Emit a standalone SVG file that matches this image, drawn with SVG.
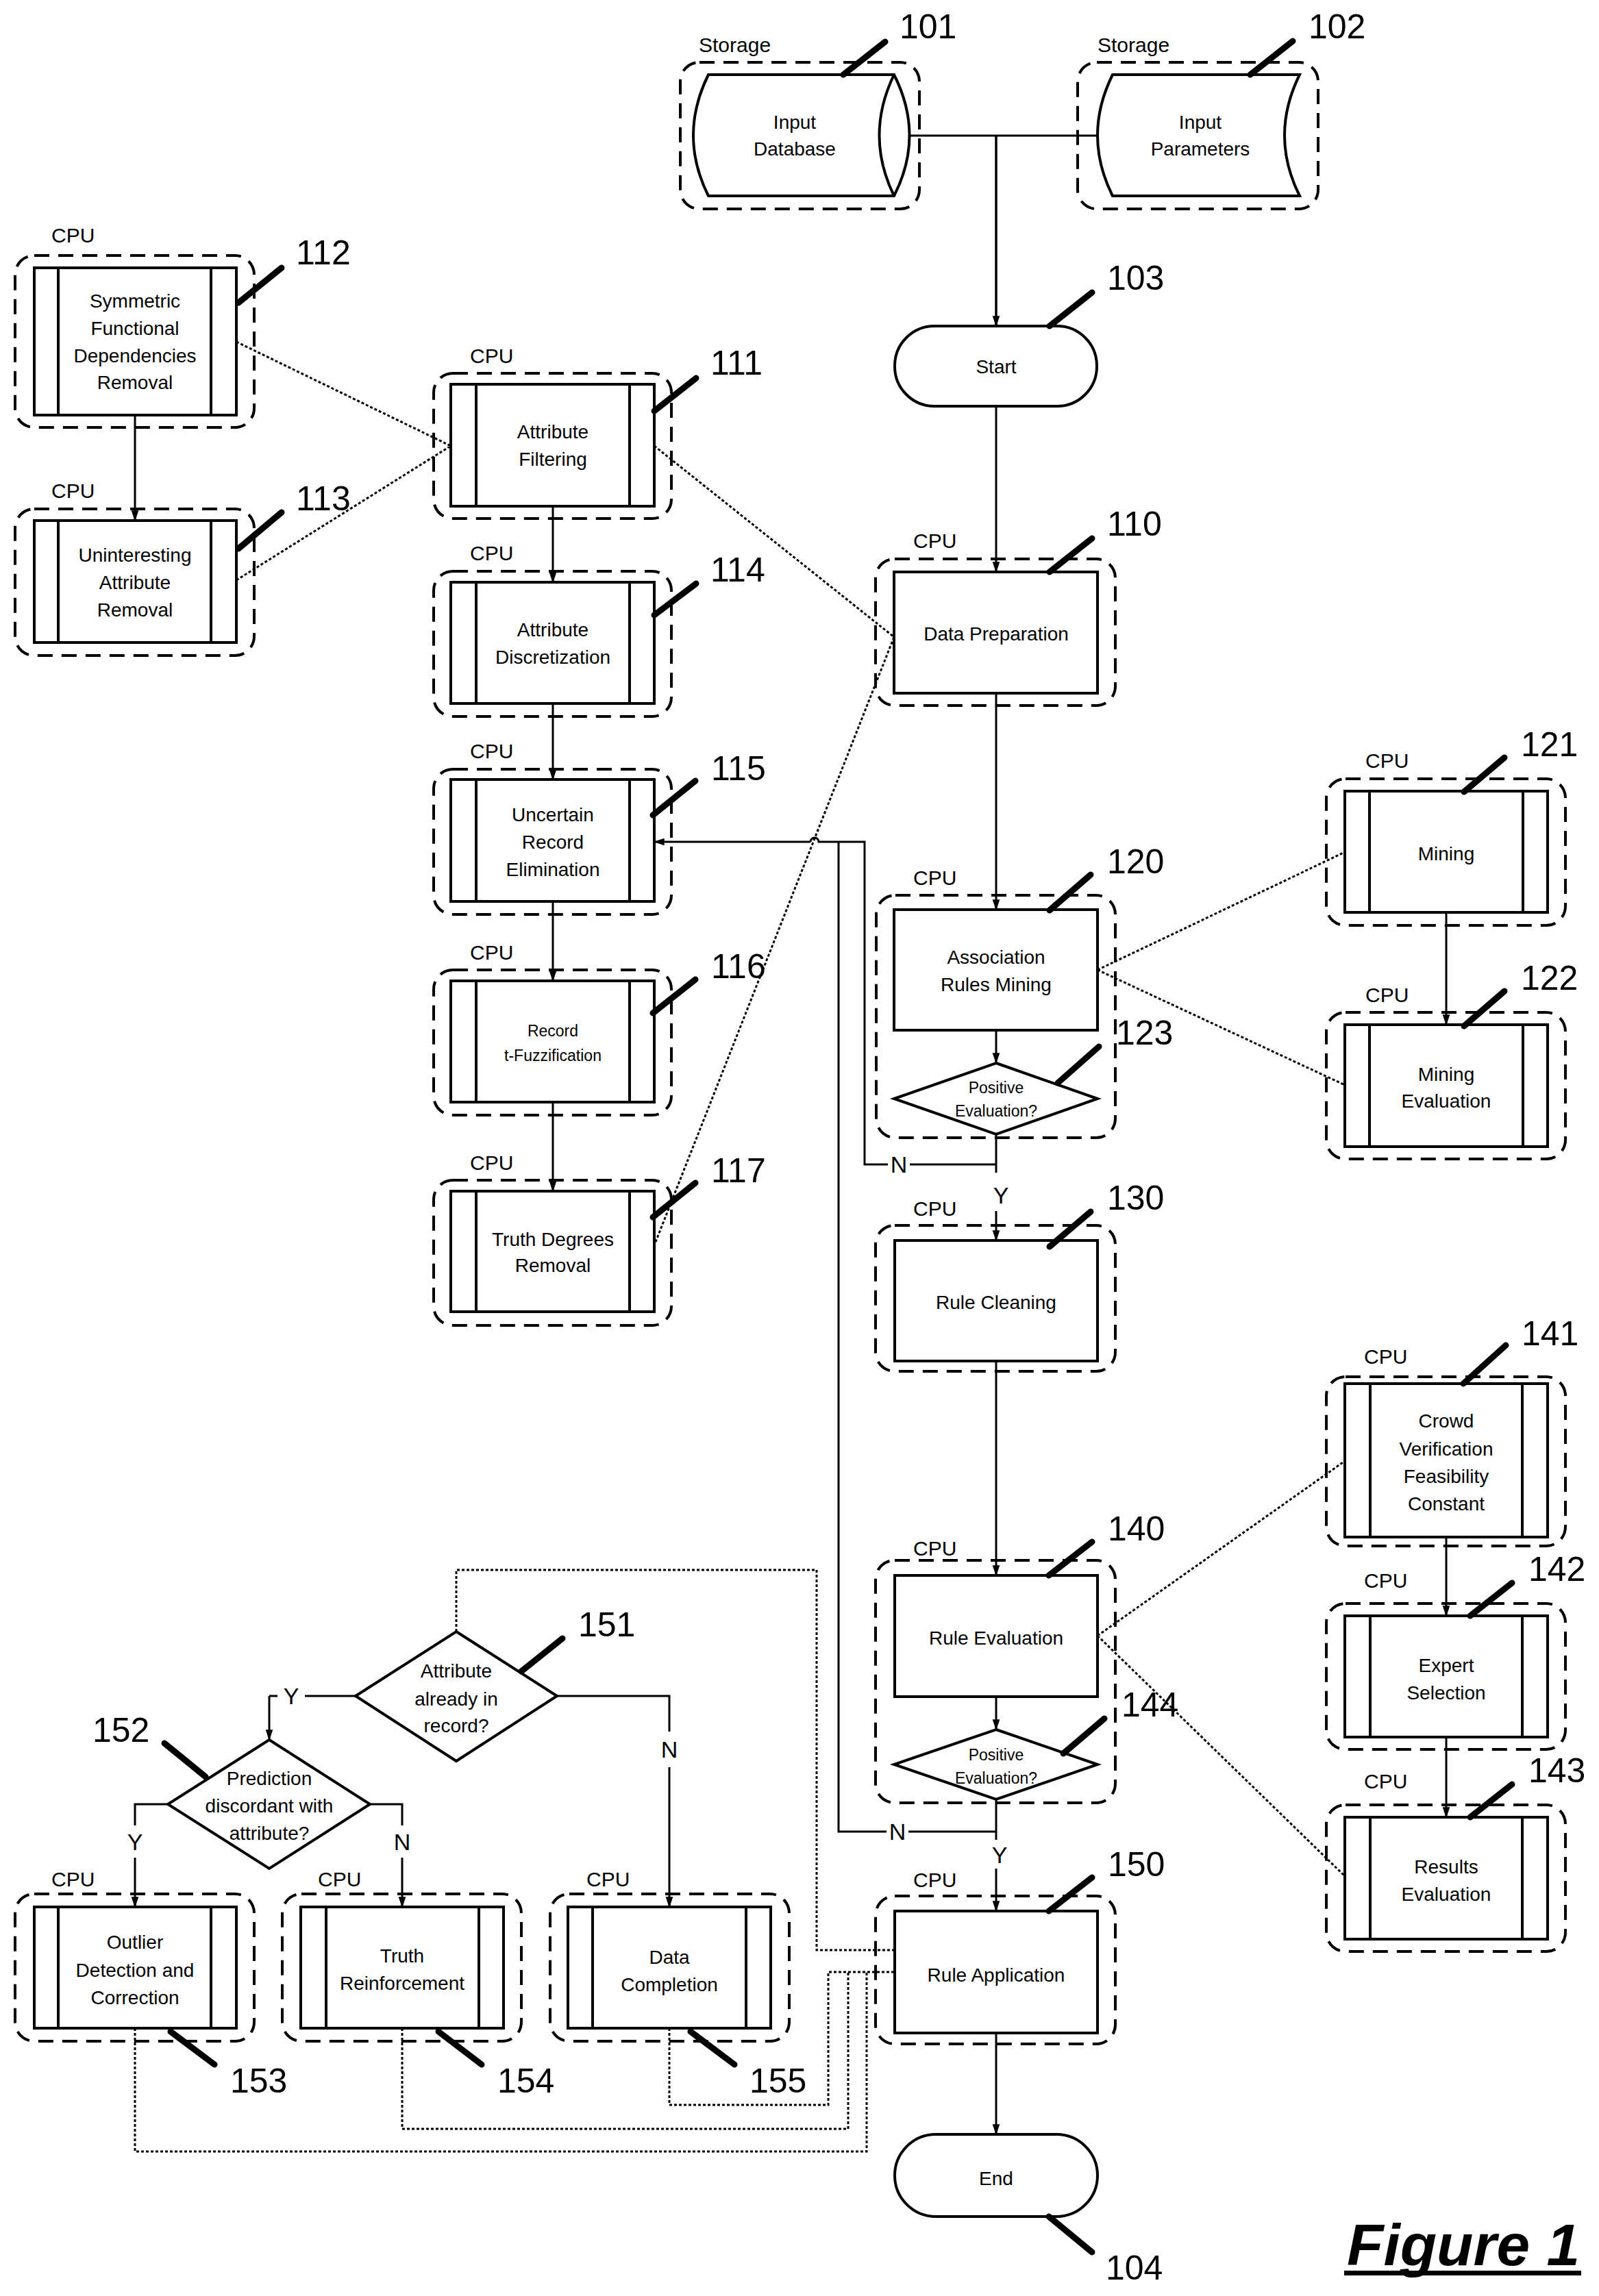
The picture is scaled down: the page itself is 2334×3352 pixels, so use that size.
<svg xmlns="http://www.w3.org/2000/svg" width="2334" height="3352" viewBox="0 0 2334 3352">
<defs>
<marker id="ah" markerWidth="16" markerHeight="24" refX="22" refY="8" viewBox="0 0 24 16" orient="auto" markerUnits="userSpaceOnUse">
<path d="M0,0 L24,8 L0,16 Z" fill="#000"/>
</marker>
<style>
.t{font-family:"Liberation Sans",Arial,sans-serif;font-size:28px;text-anchor:middle;fill:#000}
.s{font-size:23px}
.cpu{font-family:"Liberation Sans",Arial,sans-serif;font-size:30px;fill:#000}
.num{font-family:"Liberation Sans",Arial,sans-serif;font-size:50px;fill:#000}
.box{fill:#fff;stroke:#000;stroke-width:4}
.dash{fill:none;stroke:#000;stroke-width:4;stroke-dasharray:22 13}
.ld{stroke:#000;stroke-width:9;stroke-linecap:round}
.c{fill:none;stroke:#000;stroke-width:3}
.ca{fill:none;stroke:#000;stroke-width:3;marker-end:url(#ah)}
.dot{fill:none;stroke:#000;stroke-width:3;stroke-dasharray:4 3}
</style>
</defs>
<rect width="2334" height="3352" fill="#fff"/>

<g id="connectors">
<path class="c" d="M1328,198 H1602 M1454,198 V476"/>
<path class="ca" d="M1454,198 V476"/>
<path class="ca" d="M1454,593 V835"/>
<path class="ca" d="M1454,1012 V1328"/>
<path class="ca" d="M1454,1504 V1552"/>
<path class="c" d="M1454,1656 V1712"/>
<path class="ca" d="M1454,1768 V1811"/>
<path class="ca" d="M1454,1987 V2300"/>
<path class="ca" d="M1454,2477 V2525"/>
<path class="c" d="M1454,2627 V2686"/>
<path class="ca" d="M1454,2728 V2790"/>
<path class="ca" d="M1454,2968 V3116"/>
<path class="c" d="M1454,1700 H1328 M1296,1700 H1262 V1229 H1195 A6,6 0 0 0 1183,1229"/>
<path class="ca" d="M1183,1229 H955"/>
<path class="c" d="M1454,2674 H1326 M1294,2674 H1224 V1229"/>
<path class="ca" d="M197,606 V760"/>
<path class="ca" d="M807,739 V850"/>
<path class="ca" d="M807,1027 V1138"/>
<path class="ca" d="M807,1316 V1432"/>
<path class="ca" d="M807,1609 V1739"/>
<path class="ca" d="M2111,1332 V1496"/>
<path class="ca" d="M2111,2244 V2359"/>
<path class="ca" d="M2111,2536 V2653"/>
<path class="c" d="M519,2476 H445 M405,2476 H393"/>
<path class="ca" d="M393,2476 V2540"/>
<path class="c" d="M813,2476 H977 V2528"/>
<path class="ca" d="M977,2580 V2784"/>
<path class="c" d="M245,2634 H197 V2665"/>
<path class="ca" d="M197,2712 V2784"/>
<path class="c" d="M540,2634 H587 V2665"/>
<path class="ca" d="M587,2712 V2784"/>
<path class="dot" d="M345,499 L658,651 M345,847 L658,651 M955,651 L1305,930 L955,1818"/>
<path class="dot" d="M1602,1416 L1963,1244 M1602,1416 L1963,1584"/>
<path class="dot" d="M1602,2388 L1963,2133 M1602,2388 L1963,2739"/>
<path class="dot" d="M666,2382 V2292 H1192 V2847 H1305"/>
<path class="dot" d="M977,2961 V3073 H1209 V2879 H1305"/>
<path class="dot" d="M587,2961 V3108 H1238 V2879"/>
<path class="dot" d="M197,2961 V3141 H1265 V2879"/>
<text class="t" x="1312" y="1712" style="font-size:34px">N</text>
<text class="t" x="1461" y="1757" style="font-size:34px">Y</text>
<text class="t" x="1310" y="2686" style="font-size:34px">N</text>
<text class="t" x="1459" y="2720" style="font-size:34px">Y</text>
<text class="t" x="425" y="2488" style="font-size:34px">Y</text>
<text class="t" x="977" y="2566" style="font-size:34px">N</text>
<text class="t" x="197" y="2701" style="font-size:34px">Y</text>
<text class="t" x="587" y="2701" style="font-size:34px">N</text>
</g>

<g id="n101">
<rect class="dash" x="993" y="91" width="349" height="214" rx="28"/>
<path class="box" d="M1034,109 H1305 Q1350,198 1305,286 H1034 Q990,198 1034,109 Z"/>
<path class="c" d="M1305,109 Q1262,198 1305,286" style="stroke-width:4"/>
<text class="cpu" x="1020" y="76">Storage</text>
<text class="t" x="1160" y="188">Input</text>
<text class="t" x="1160" y="227">Database</text>
<line class="ld" x1="1231" y1="109" x2="1292" y2="61"/>
<text class="num" x="1313" y="56">101</text>
</g>
<g id="n102">
<rect class="dash" x="1573" y="91" width="351" height="214" rx="28"/>
<path class="box" d="M1624,109 H1897 Q1853,198 1897,286 H1624 Q1580,198 1624,109 Z"/>
<text class="cpu" x="1602" y="76">Storage</text>
<text class="t" x="1752" y="188">Input</text>
<text class="t" x="1752" y="227">Parameters</text>
<line class="ld" x1="1825" y1="109" x2="1887" y2="60"/>
<text class="num" x="1910" y="56">102</text>
</g>
<g id="n103">
<rect class="box" x="1306" y="476" width="295" height="117" rx="58"/>
<text class="t" x="1454" y="545">Start</text>
<line class="ld" x1="1532" y1="476" x2="1594" y2="427"/>
<text class="num" x="1616" y="423">103</text>
</g>
<g id="n110">
<rect class="dash" x="1278" y="816" width="350" height="214" rx="28"/>
<rect class="box" x="1305" y="835" width="297" height="177"/>
<text class="cpu" x="1333" y="800">CPU</text>
<text class="t" x="1454" y="935">Data Preparation</text>
<line class="ld" x1="1532" y1="835" x2="1594" y2="786"/>
<text class="num" x="1616" y="782">110</text>
</g>

<g id="n112">
<rect class="dash" x="22" y="373" width="349" height="251" rx="28"/>
<rect class="box" x="50" y="391" width="295" height="215"/>
<path class="c" d="M85,391 V606 M308,391 V606" style="stroke-width:4"/>
<text class="cpu" x="75" y="354">CPU</text>
<text class="t" x="197" y="449">Symmetric</text>
<text class="t" x="197" y="489">Functional</text>
<text class="t" x="197" y="529">Dependencies</text>
<text class="t" x="197" y="568">Removal</text>
<line class="ld" x1="348" y1="442" x2="411" y2="391"/>
<text class="num" x="432" y="386">112</text>
</g>
<g id="n113">
<rect class="dash" x="22" y="743" width="349" height="214" rx="28"/>
<rect class="box" x="50" y="760" width="295" height="178"/>
<path class="c" d="M85,760 V938 M308,760 V938" style="stroke-width:4"/>
<text class="cpu" x="75" y="727">CPU</text>
<text class="t" x="197" y="820">Uninteresting</text>
<text class="t" x="197" y="860">Attribute</text>
<text class="t" x="197" y="900">Removal</text>
<line class="ld" x1="348" y1="801" x2="411" y2="748"/>
<text class="num" x="432" y="745">113</text>
</g>
<g id="n111">
<rect class="dash" x="633" y="545" width="347" height="212" rx="28"/>
<rect class="box" x="658" y="561" width="297" height="178"/>
<path class="c" d="M695,561 V739 M919,561 V739" style="stroke-width:4"/>
<text class="cpu" x="686" y="530">CPU</text>
<text class="t" x="807" y="640">Attribute</text>
<text class="t" x="807" y="680">Filtering</text>
<line class="ld" x1="955" y1="600" x2="1016" y2="552"/>
<text class="num" x="1037" y="547">111</text>
</g>
<g id="n114">
<rect class="dash" x="633" y="834" width="347" height="212" rx="28"/>
<rect class="box" x="658" y="850" width="297" height="177"/>
<path class="c" d="M695,850 V1027 M919,850 V1027" style="stroke-width:4"/>
<text class="cpu" x="686" y="818">CPU</text>
<text class="t" x="807" y="929">Attribute</text>
<text class="t" x="807" y="969">Discretization</text>
<line class="ld" x1="955" y1="898" x2="1016" y2="852"/>
<text class="num" x="1037" y="849">114</text>
</g>
<g id="n115">
<rect class="dash" x="633" y="1123" width="347" height="212" rx="28"/>
<rect class="box" x="658" y="1138" width="297" height="178"/>
<path class="c" d="M695,1138 V1316 M919,1138 V1316" style="stroke-width:4"/>
<text class="cpu" x="686" y="1107">CPU</text>
<text class="t" x="807" y="1199">Uncertain</text>
<text class="t" x="807" y="1239">Record</text>
<text class="t" x="807" y="1279">Elimination</text>
<line class="ld" x1="953" y1="1190" x2="1015" y2="1140"/>
<text class="num" x="1038" y="1139">115</text>
</g>
<g id="n116">
<rect class="dash" x="633" y="1416" width="347" height="212" rx="28"/>
<rect class="box" x="658" y="1432" width="297" height="177"/>
<path class="c" d="M695,1432 V1609 M919,1432 V1609" style="stroke-width:4"/>
<text class="cpu" x="686" y="1401">CPU</text>
<text class="t s" x="807" y="1513">Record</text>
<text class="t s" x="807" y="1549">t-Fuzzification</text>
<line class="ld" x1="953" y1="1479" x2="1015" y2="1430"/>
<text class="num" x="1038" y="1428">116</text>
</g>
<g id="n117">
<rect class="dash" x="633" y="1723" width="347" height="212" rx="28"/>
<rect class="box" x="658" y="1739" width="297" height="176"/>
<path class="c" d="M695,1739 V1915 M919,1739 V1915" style="stroke-width:4"/>
<text class="cpu" x="686" y="1708">CPU</text>
<text class="t" x="807" y="1819">Truth Degrees</text>
<text class="t" x="807" y="1857">Removal</text>
<line class="ld" x1="953" y1="1777" x2="1015" y2="1727"/>
<text class="num" x="1038" y="1726">117</text>
</g>

<g id="n120">
<rect class="dash" x="1279" y="1307" width="349" height="354" rx="28"/>
<rect class="box" x="1305" y="1328" width="297" height="176"/>
<text class="cpu" x="1333" y="1292">CPU</text>
<text class="t" x="1454" y="1407">Association</text>
<text class="t" x="1454" y="1447">Rules Mining</text>
<line class="ld" x1="1532" y1="1329" x2="1592" y2="1277"/>
<text class="num" x="1616" y="1275">120</text>
</g>
<g id="n123">
<path class="box" d="M1454,1552 L1602,1604 L1454,1656 L1305,1604 Z"/>
<text class="t s" x="1454" y="1596">Positive</text>
<text class="t s" x="1454" y="1630">Evaluation?</text>
<line class="ld" x1="1544" y1="1581" x2="1604" y2="1528"/>
<text class="num" x="1629" y="1525">123</text>
</g>
<g id="n121">
<rect class="dash" x="1936" y="1137" width="349" height="214" rx="28"/>
<rect class="box" x="1963" y="1155" width="296" height="177"/>
<path class="c" d="M1999,1155 V1332 M2223,1155 V1332" style="stroke-width:4"/>
<text class="cpu" x="1993" y="1121">CPU</text>
<text class="t" x="2111" y="1256">Mining</text>
<line class="ld" x1="2137" y1="1156" x2="2196" y2="1106"/>
<text class="num" x="2220" y="1104">121</text>
</g>
<g id="n122">
<rect class="dash" x="1936" y="1478" width="349" height="214" rx="28"/>
<rect class="box" x="1963" y="1496" width="296" height="178"/>
<path class="c" d="M1999,1496 V1674 M2223,1496 V1674" style="stroke-width:4"/>
<text class="cpu" x="1993" y="1463">CPU</text>
<text class="t" x="2111" y="1578">Mining</text>
<text class="t" x="2111" y="1617">Evaluation</text>
<line class="ld" x1="2137" y1="1498" x2="2196" y2="1447"/>
<text class="num" x="2220" y="1445">122</text>
</g>
<g id="n130">
<rect class="dash" x="1278" y="1789" width="350" height="213" rx="28"/>
<rect class="box" x="1306" y="1811" width="296" height="176"/>
<text class="cpu" x="1333" y="1775">CPU</text>
<text class="t" x="1454" y="1911">Rule Cleaning</text>
<line class="ld" x1="1532" y1="1820" x2="1592" y2="1769"/>
<text class="num" x="1616" y="1766">130</text>
</g>
<g id="n140">
<rect class="dash" x="1278" y="2278" width="350" height="354" rx="28"/>
<rect class="box" x="1306" y="2300" width="296" height="177"/>
<text class="cpu" x="1333" y="2271">CPU</text>
<text class="t" x="1454" y="2401">Rule Evaluation</text>
<line class="ld" x1="1531" y1="2300" x2="1594" y2="2251"/>
<text class="num" x="1617" y="2249">140</text>
</g>
<g id="n144">
<path class="box" d="M1454,2525 L1602,2576 L1454,2627 L1305,2576 Z"/>
<text class="t s" x="1454" y="2570">Positive</text>
<text class="t s" x="1454" y="2604">Evaluation?</text>
<line class="ld" x1="1552" y1="2560" x2="1612" y2="2509"/>
<text class="num" x="1637" y="2506">144</text>
</g>
<g id="n141">
<rect class="dash" x="1936" y="2010" width="349" height="247" rx="28"/>
<rect class="box" x="1963" y="2020" width="296" height="224"/>
<path class="c" d="M2000,2020 V2244 M2222,2020 V2244" style="stroke-width:4"/>
<text class="cpu" x="1991" y="1991">CPU</text>
<text class="t" x="2111" y="2084">Crowd</text>
<text class="t" x="2111" y="2125">Verification</text>
<text class="t" x="2111" y="2165">Feasibility</text>
<text class="t" x="2111" y="2205">Constant</text>
<line class="ld" x1="2136" y1="2020" x2="2198" y2="1964"/>
<text class="num" x="2221" y="1964">141</text>
</g>
<g id="n142">
<rect class="dash" x="1936" y="2341" width="349" height="213" rx="28"/>
<rect class="box" x="1963" y="2359" width="296" height="177"/>
<path class="c" d="M2000,2359 V2536 M2222,2359 V2536" style="stroke-width:4"/>
<text class="cpu" x="1991" y="2318">CPU</text>
<text class="t" x="2111" y="2441">Expert</text>
<text class="t" x="2111" y="2481">Selection</text>
<line class="ld" x1="2146" y1="2359" x2="2207" y2="2311"/>
<text class="num" x="2231" y="2308">142</text>
</g>
<g id="n143">
<rect class="dash" x="1936" y="2635" width="349" height="214" rx="28"/>
<rect class="box" x="1963" y="2653" width="296" height="178"/>
<path class="c" d="M2000,2653 V2831 M2222,2653 V2831" style="stroke-width:4"/>
<text class="cpu" x="1991" y="2611">CPU</text>
<text class="t" x="2111" y="2735">Results</text>
<text class="t" x="2111" y="2775">Evaluation</text>
<line class="ld" x1="2146" y1="2653" x2="2207" y2="2605"/>
<text class="num" x="2231" y="2602">143</text>
</g>
<g id="n150">
<rect class="dash" x="1278" y="2768" width="350" height="216" rx="28"/>
<rect class="box" x="1306" y="2790" width="296" height="178"/>
<text class="cpu" x="1333" y="2755">CPU</text>
<text class="t" x="1454" y="2893">Rule Application</text>
<line class="ld" x1="1531" y1="2790" x2="1594" y2="2741"/>
<text class="num" x="1617" y="2739">150</text>
</g>
<g id="n104">
<rect class="box" x="1306" y="3116" width="296" height="120" rx="60"/>
<text class="t" x="1454" y="3190">End</text>
<line class="ld" x1="1531" y1="3236" x2="1594" y2="3288"/>
<text class="num" x="1614" y="3328">104</text>
</g>

<g id="n151">
<path class="box" d="M666,2382 L813,2476 L666,2571 L519,2476 Z"/>
<text class="t" x="666" y="2449">Attribute</text>
<text class="t" x="666" y="2490">already in</text>
<text class="t" x="666" y="2529">record?</text>
<line class="ld" x1="761" y1="2440" x2="821" y2="2392"/>
<text class="num" x="844" y="2389">151</text>
</g>
<g id="n152">
<path class="box" d="M393,2540 L540,2634 L393,2728 L245,2634 Z"/>
<text class="t" x="393" y="2606">Prediction</text>
<text class="t" x="393" y="2646">discordant with</text>
<text class="t" x="393" y="2686">attribute?</text>
<line class="ld" x1="240" y1="2545" x2="300" y2="2594"/>
<text class="num" x="135" y="2543">152</text>
</g>
<g id="n153">
<rect class="dash" x="22" y="2765" width="349" height="215" rx="28"/>
<rect class="box" x="50" y="2784" width="295" height="177"/>
<path class="c" d="M85,2784 V2961 M308,2784 V2961" style="stroke-width:4"/>
<text class="cpu" x="75" y="2754">CPU</text>
<text class="t" x="197" y="2845">Outlier</text>
<text class="t" x="197" y="2886">Detection and</text>
<text class="t" x="197" y="2926">Correction</text>
<line class="ld" x1="249" y1="2966" x2="313" y2="3014"/>
<text class="num" x="336" y="3055">153</text>
</g>
<g id="n154">
<rect class="dash" x="412" y="2765" width="349" height="215" rx="28"/>
<rect class="box" x="439" y="2784" width="296" height="177"/>
<path class="c" d="M476,2784 V2961 M699,2784 V2961" style="stroke-width:4"/>
<text class="cpu" x="464" y="2754">CPU</text>
<text class="t" x="587" y="2865">Truth</text>
<text class="t" x="587" y="2905">Reinforcement</text>
<line class="ld" x1="640" y1="2966" x2="703" y2="3014"/>
<text class="num" x="726" y="3055">154</text>
</g>
<g id="n155">
<rect class="dash" x="803" y="2765" width="349" height="215" rx="28"/>
<rect class="box" x="829" y="2784" width="296" height="177"/>
<path class="c" d="M865,2784 V2961 M1089,2784 V2961" style="stroke-width:4"/>
<text class="cpu" x="856" y="2754">CPU</text>
<text class="t" x="977" y="2867">Data</text>
<text class="t" x="977" y="2907">Completion</text>
<line class="ld" x1="1008" y1="2966" x2="1072" y2="3014"/>
<text class="num" x="1094" y="3055">155</text>
</g>

<g id="title">
<text x="1966" y="3307" textLength="340" lengthAdjust="spacingAndGlyphs" style="font-family:'Liberation Sans',Arial,sans-serif;font-size:86px;font-weight:bold;font-style:italic;fill:#000">Figure 1</text>
<rect x="1962" y="3315" width="346" height="7" fill="#000"/>
</g>
</svg>
